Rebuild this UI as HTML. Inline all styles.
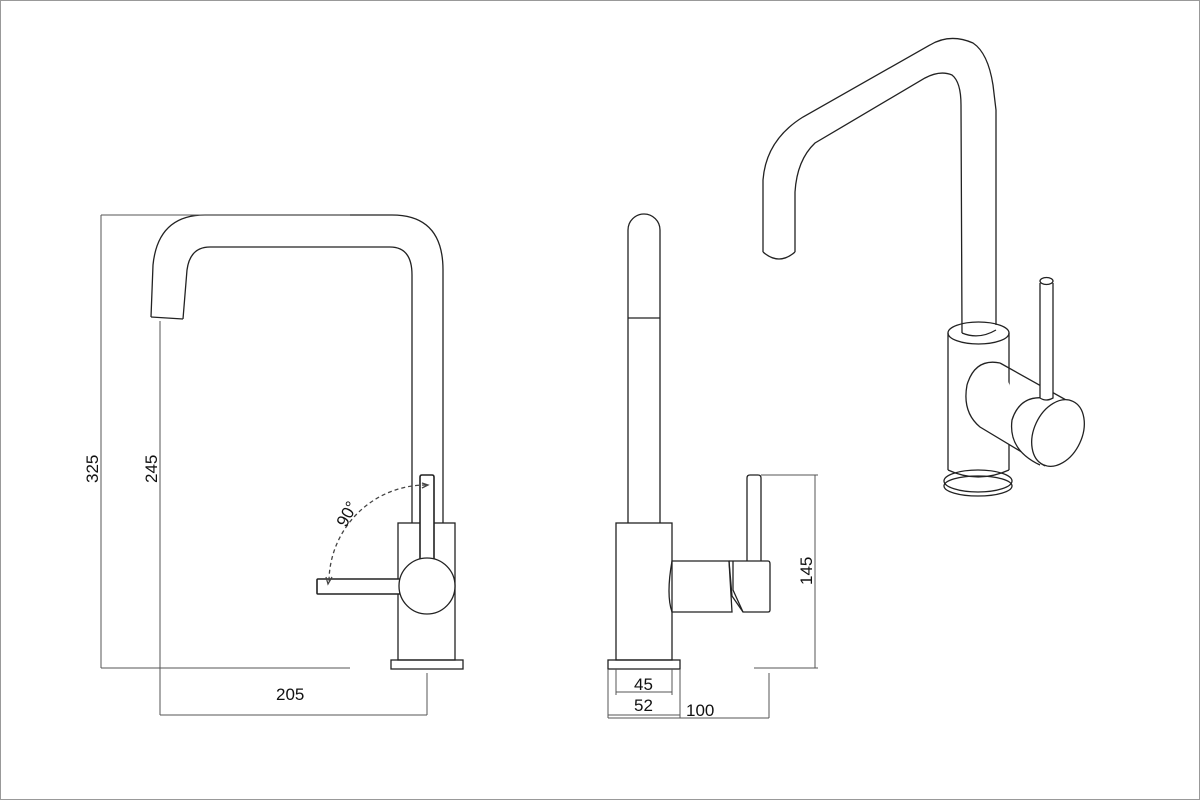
<!DOCTYPE html>
<html><head><meta charset="utf-8"><style>
html,body{margin:0;padding:0;background:#fff;}
svg{display:block;}
text{font-family:"Liberation Sans",Arial,sans-serif;font-size:17px;fill:#111;}
</style></head><body>
<svg width="1200" height="800" viewBox="0 0 1200 800" xmlns="http://www.w3.org/2000/svg">
<rect x="0.5" y="0.5" width="1199" height="799" fill="#fff" stroke="#999" stroke-width="1"/>
<g fill="none" stroke="#222" stroke-width="1.3">
<!-- FRONT VIEW -->
<path d="M151,317 L153,265 Q158,215 205,215 L392,215 Q443,215 443,270 L443,523"/>
<path d="M183,319 L187,270 Q190,247 210,247 L390,247 Q412,247 412,275 L412,523"/>
<path d="M151,317 L183,319"/>
<rect x="398" y="523" width="57" height="137"/>
<rect x="391" y="660" width="72" height="9"/>
<path d="M420,560 L420,477 Q420,475 422,475 L432,475 Q434,475 434,477 L434,560" stroke-width="1.6" fill="#fff"/>
<rect x="317" y="579" width="83" height="15" rx="1" stroke-width="1.6" fill="#fff"/>
<circle cx="427" cy="586" r="28" fill="#fff"/>
<path d="M426,485 A97,97 0 0 0 329,582" stroke="#444" stroke-dasharray="4,3"/>
<path d="M422,483 L428,485 L422,488" stroke="#444"/>
<path d="M326,577 L328,584 L332,577" stroke="#444"/>
<g stroke="#555" stroke-width="1">
<path d="M101,215 L101,668 M101,215 L350,215 M101,668 L350,668"/>
<path d="M160,321 L160,715 M160,715 L427,715 M427,673 L427,715"/>
</g>
<!-- SIDE VIEW -->
<path d="M628,523 L628,230 A16,16 0 0 1 660,230 L660,523"/>
<path d="M628,318 L660,318"/>
<rect x="616" y="523" width="56" height="137"/>
<rect x="608" y="660" width="72" height="9"/>
<path d="M672,561 L729,561 L732,612 L672,612 Q666,595 672,561 Z"/>
<path d="M729,561 L768,561 Q770,561 770,564 L770,610 Q770,612 768,612 L743,612 L732,596 L729,561"/>
<path d="M733,561 L733,590 L743,612"/>
<path d="M747,561 L747,478 Q747,475 750,475 L758,475 Q761,475 761,478 L761,561"/>
<g stroke="#555" stroke-width="1">
<path d="M761,475 L818,475 M815,475 L815,668 M754,668 L818,668"/>
<path d="M769,673 L769,718 M608,718 L769,718 M608,669 L608,718 M680,669 L680,718 M608,715 L680,715"/>
<path d="M616,669 L616,695 M672,669 L672,695 M616,692 L672,692"/>
</g>
<!-- ISO VIEW -->
<path d="M763,252 L763,180 Q766,140 803,117 L930,45 Q950,33 973,43 Q988,53 993,85 L996,110 L996,325"/>
<path d="M795,252 L795,192 Q797,160 815,143 L925,78 Q940,70 952,75 Q961,82 961,105 L962,333"/>
<path d="M763,252 Q779,266 795,252"/>
<path d="M948,333 L948,470 M1009,333 L1009,470"/>
<ellipse cx="978.5" cy="333" rx="30.5" ry="11"/>
<path d="M962,333 Q979,340 996,330"/>
<path d="M948,470 Q978,484 1009,470"/>
<ellipse cx="978" cy="481" rx="34" ry="11"/>
<ellipse cx="978" cy="486" rx="34" ry="10"/>
<!-- handle -->
<path d="M1000,363 Q975,358 967,385 Q962,412 980,427 L1045,466" fill="#fff"/>
<path d="M1000,363 L1075,405"/>
<path d="M1040,465 Q1008,450 1012,420 Q1020,395 1045,398" fill="#fff"/>
<ellipse cx="1058" cy="433" rx="24" ry="35" transform="rotate(25 1058 433)" fill="#fff"/>
<rect x="1040" y="283" width="13" height="117" fill="#fff" stroke="none"/>
<path d="M1040,283 L1040,398 Q1046,402 1053,398 L1053,283"/>
<ellipse cx="1046.5" cy="281" rx="6.5" ry="3.5" fill="#fff"/>
</g>
<text x="0" y="0" transform="translate(98,483) rotate(-90)">325</text>
<text x="0" y="0" transform="translate(157,483) rotate(-90)">245</text>
<text x="276" y="700">205</text>
<text x="0" y="0" transform="translate(346,528) rotate(-62)">90°</text>
<text x="0" y="0" transform="translate(812,585) rotate(-90)">145</text>
<text x="634" y="690">45</text>
<text x="634" y="711">52</text>
<text x="686" y="716">100</text>
</svg>
</body></html>
